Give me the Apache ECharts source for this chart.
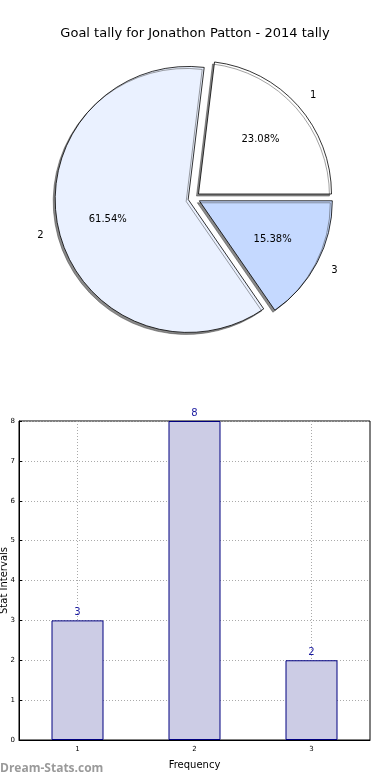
<!DOCTYPE html>
<html><head><meta charset="utf-8">
<script src="https://cdn.jsdelivr.net/npm/echarts@6/dist/echarts.min.js"></script>
<style>html,body{margin:0;padding:0;background:#fff}#c{width:390px;height:780px}</style>
</head><body><div id="c"></div>
<script>
const titleText = 'Goal tally for Jonathon Patton - 2014 tally';
const categories = ['1', '2', '3'];
const tallies = [3, 8, 2];
const sliceColors = ['#ffffff', '#eaf1ff', '#c5d9ff'];
const yTicks = [0, 1, 2, 3, 4, 5, 6, 7, 8];

const font = 'DejaVu Sans';
const pieCenter = [194, 198];
const pieR = 133;
const explode = 6;

const pieData = categories.map((c, i) => ({
  name: c, value: tallies[i], selected: true,
  itemStyle: { color: sliceColors[i] }
}));
const overlayData = categories.map((c, i) => ({
  name: c, value: tallies[i], selected: true,
  itemStyle: { color: 'rgba(0,0,0,0)', borderWidth: 0, shadowColor: 'rgba(0,0,0,0)' }
}));

const chart = echarts.init(document.getElementById('c'), null, { renderer: 'canvas' });
chart.setOption({
  animation: false,
  backgroundColor: '#fff',
  title: {
    text: titleText, left: 'center', top: 22,
    textStyle: { fontFamily: font, fontSize: 13, fontWeight: 'normal', color: '#000' }
  },
  graphic: [{
    type: 'text', left: 0, top: 763,
    style: { text: 'Dream-Stats.com', fill: '#9a9a9a', font: 'bold 12px "Open Sans", sans-serif' }
  }],
  grid: {
    left: 19, right: 20, top: 421, bottom: 40,
    outerBoundsMode: 'none', containLabel: false,
    show: true, borderColor: '#000', borderWidth: 1, backgroundColor: 'transparent'
  },
  xAxis: {
    type: 'category', data: categories,
    name: 'Frequency', nameLocation: 'middle', nameGap: 20, nameMoveOverlap: false,
    nameTextStyle: { fontFamily: font, fontSize: 10, color: '#000' },
    axisLine: { lineStyle: { color: '#000' } },
    axisTick: { alignWithLabel: true, inside: true, length: 3, lineStyle: { color: '#000' } },
    axisLabel: { fontFamily: font, fontSize: 7, color: '#000', margin: 6 },
    splitLine: { show: true, alignWithLabel: true, lineStyle: { color: '#aaa', type: [1, 2], width: 1 } }
  },
  yAxis: {
    type: 'value', min: 0, max: 8, interval: 1,
    name: 'Stat Intervals', nameLocation: 'middle', nameGap: 10, nameRotate: 90, nameMoveOverlap: false,
    nameTextStyle: { fontFamily: font, fontSize: 10, color: '#000' },
    axisLine: { show: true, lineStyle: { color: '#000' } },
    axisTick: { show: true, inside: true, length: 3, lineStyle: { color: '#000' } },
    axisLabel: {
      fontFamily: font, fontSize: 7, color: '#000', margin: 4,
      formatter: v => yTicks.includes(v) ? String(v) : ''
    },
    splitLine: { show: true, lineStyle: { color: '#aaa', type: [1, 2], width: 1 } }
  },
  series: [
    {
      type: 'bar', data: tallies, barWidth: 52,
      itemStyle: { color: '#ccccE5', borderColor: '#000080', borderWidth: 1 },
      label: { show: true, position: 'top', distance: 3, color: '#1a1aa0', fontFamily: font, fontSize: 10 }
    },
    {
      type: 'pie', center: pieCenter, radius: pieR,
      startAngle: 0, clockwise: false,
      selectedMode: 'multiple', selectedOffset: explode,
      data: pieData,
      itemStyle: {
        borderColor: '#000', borderWidth: 0.8,
        shadowColor: 'rgba(60,60,60,0.6)', shadowBlur: 0, shadowOffsetX: -2, shadowOffsetY: 2
      },
      label: {
        show: true, position: 'outside', formatter: '{b}',
        fontFamily: font, fontSize: 10, color: '#000', distanceToLabelLine: 0
      },
      labelLine: { show: false, length: 16, length2: 0 },
      emphasis: { disabled: true }, silent: true
    },
    {
      type: 'pie', center: pieCenter, radius: pieR * 1.2,
      startAngle: 0, clockwise: false,
      selectedMode: 'multiple', selectedOffset: explode,
      percentPrecision: 2,
      data: overlayData,
      label: {
        show: true, position: 'inside', formatter: p => p.percent.toFixed(2) + '%',
        fontFamily: font, fontSize: 10, color: '#000'
      },
      labelLine: { show: false },
      emphasis: { disabled: true }, silent: true
    }
  ]
});
</script></body></html>
